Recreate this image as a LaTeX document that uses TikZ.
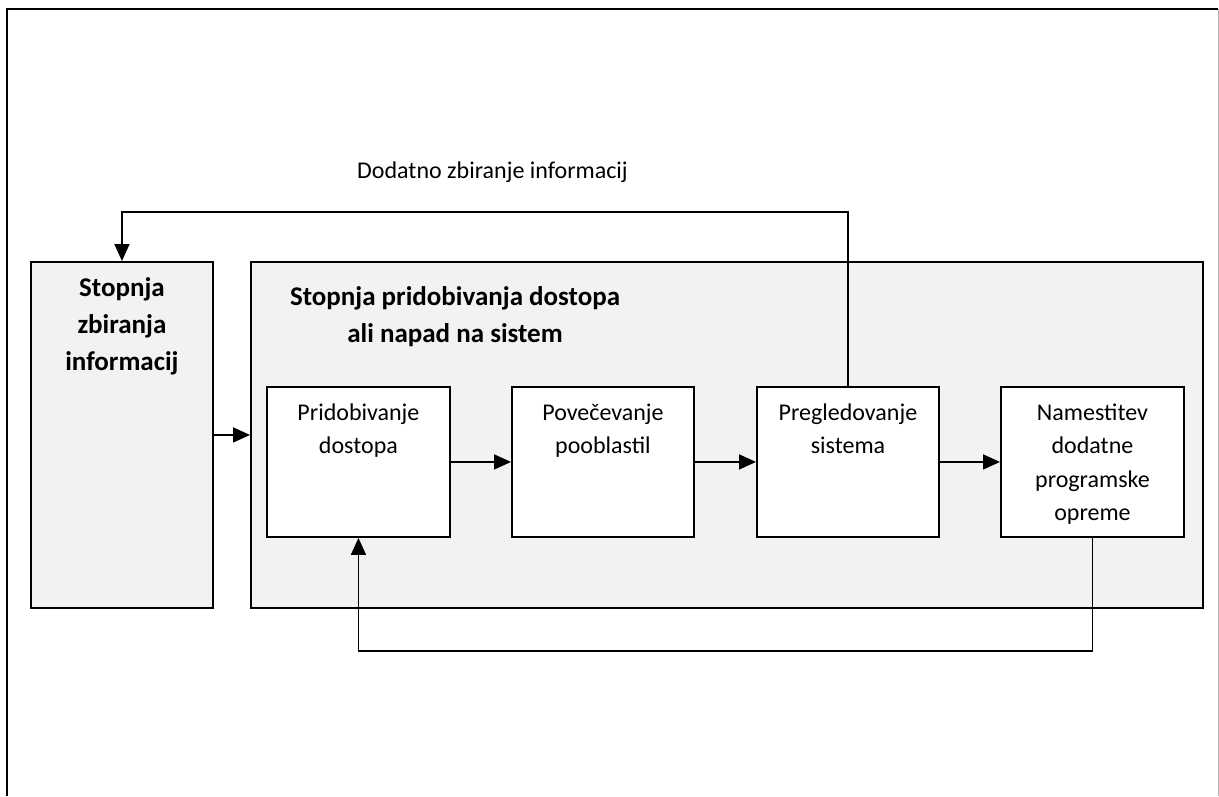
\documentclass[tikz,border=0pt]{standalone}
\usepackage{fontspec}
\setmainfont{Carlito}
\definecolor{stagegray}{RGB}{242, 242, 242}
\usepackage{tikz}
\usetikzlibrary{arrows.meta, positioning, calc}

\begin{document}
\begin{tikzpicture}[x=1pt, y=-1pt,
    stage/.style={draw=black, line width=1.9pt, fill=stagegray, inner sep=0pt, anchor=north west},
    stepbox/.style={draw=black, line width=1.9pt, fill=white, inner sep=0pt, anchor=north west, minimum height=150pt},
    boxtext/.style={align=center, inner sep=0pt, anchor=base, font=\fontsize{24}{33.5}\selectfont},
    titletext/.style={align=center, inner sep=0pt, anchor=base, font=\bfseries\fontsize{27}{37}\selectfont},
    flow/.style={line width=1.7pt, -{Triangle[length=17pt, width=15pt]}}]
  \useasboundingbox (0,0) rectangle (1219,796);
  \draw[line width=2.5pt] (7,796) -- (7,9) -- (1218,9);
  \draw[gray!60, line width=1pt] (1218,9) -- (1218,796);

  % anchor=base sits on the last line
  \node[stage, minimum width=182pt, minimum height=346pt] (zb) at (30,261) {};
  \node[titletext, yshift=-109pt] (zbt) at (zb.north) {Stopnja\\zbiranja\\informacij};

  \node[stage, minimum width=952pt, minimum height=346pt] (napad) at (250,261) {};
  \node[titletext, xshift=205pt, yshift=-81pt] (napadt) at (napad.north west) {Stopnja pridobivanja dostopa\\ali napad na sistem};

  \node[stepbox, minimum width=183pt] (pd) at (266,386) {};
  \node[stepbox, minimum width=182pt] (pv) at (511,386) {};
  \node[stepbox, minimum width=182pt] (pr) at (756,386) {};
  \node[stepbox, minimum width=183pt] (nm) at (1000,386) {};
  \node[boxtext, yshift=-67.5pt] (pdt) at (pd.north) {Pridobivanje\\dostopa};
  \node[boxtext, yshift=-67.5pt] (pvt) at (pv.north) {Povečevanje\\pooblastil};
  \node[boxtext, yshift=-67.5pt] (prt) at (pr.north) {Pregledovanje\\sistema};
  \node[boxtext, yshift=-134.5pt] (nmt) at (nm.north) {Namestitev\\dodatne\\programske\\opreme};

  \draw[flow] (zb.east) -- (napad.west);
  \draw[flow] (pd.east) -- (pv.west);
  \draw[flow] (pv.east) -- (pr.west);
  \draw[flow] (pr.east) -- (nm.west);

  \coordinate (top) at (0,212);
  \coordinate (bot) at (0,651);
  \draw[flow] (pr.north) -- (pr.north |- top) -| (zb.north);
  \draw[flow] (nm.south) -- (nm.south |- bot) -| (pd.south);
  \node[boxtext, anchor=base west] (extra) at (357,178) {Dodatno zbiranje informacij};
\end{tikzpicture}
\end{document}
